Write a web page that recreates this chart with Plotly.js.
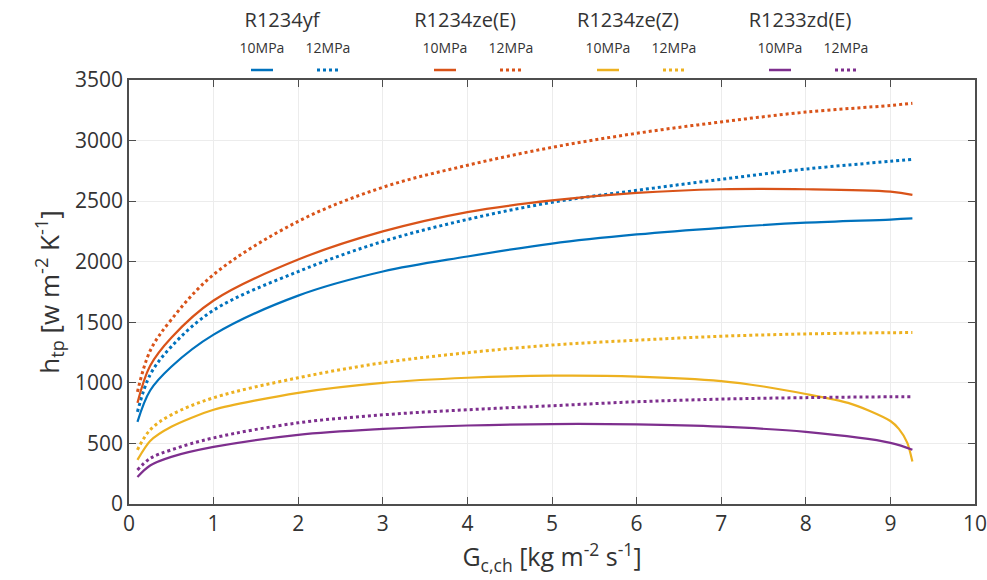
<!DOCTYPE html>
<html>
<head>
<meta charset="utf-8">
<script src="https://cdn.plot.ly/plotly-3.0.1.min.js"></script>
<style>html,body{margin:0;padding:0;background:#fff;}#chart{width:987px;height:580px;}</style>
</head>
<body>
<div id="chart"></div>
<script>
// Mass flux G_c,ch [kg m^-2 s^-1]
const G = [0.1, 0.25, 0.5, 1, 2, 3, 4, 5, 6, 7, 8, 9, 9.26];
const G_yellow10 = [0.1, 0.25, 0.5, 1, 2, 3, 4, 5, 6, 7, 7.5, 8, 8.5, 8.75, 9, 9.1, 9.2, 9.26];

// h_tp [W m^-2 K^-1]
const yf_10  = [678, 937, 1133, 1398, 1720, 1919, 2043, 2150, 2225, 2280, 2322, 2348, 2357];
const yf_12  = [761, 1067, 1299, 1600, 1919, 2167, 2349, 2490, 2589, 2680, 2765, 2829, 2845];
const zeE_10 = [835, 1141, 1373, 1680, 2018, 2250, 2410, 2506, 2568, 2598, 2598, 2578, 2552];
const zeE_12 = [926, 1265, 1522, 1894, 2333, 2614, 2796, 2944, 3060, 3154, 3235, 3290, 3308];
const zeZ_10 = [364, 520, 637, 778, 918, 1000, 1042, 1059, 1052, 1015, 970, 908, 835, 770, 685, 620, 505, 350];
const zeZ_12 = [447, 612, 736, 877, 1042, 1166, 1249, 1312, 1352, 1385, 1404, 1414, 1415];
const zd_10  = [223, 318, 389, 471, 571, 620, 648, 660, 657, 638, 595, 505, 447];
const zd_12  = [281, 376, 447, 546, 670, 736, 778, 811, 844, 866, 878, 885, 885];

const fluids = ['R1234yf', 'R1234ze(E)', 'R1234ze(Z)', 'R1233zd(E)'];
const pressures = ['10MPa', '12MPa'];
const colors = ['#0072BD', '#D95319', '#EDB120', '#7E2F8E'];

const series = [
  {x: G, y: yf_10, c: 0, dash: 'solid', name: 'R1234yf 10MPa'},
  {x: G, y: yf_12, c: 0, dash: 'dot', name: 'R1234yf 12MPa'},
  {x: G, y: zeE_10, c: 1, dash: 'solid', name: 'R1234ze(E) 10MPa'},
  {x: G, y: zeE_12, c: 1, dash: 'dot', name: 'R1234ze(E) 12MPa'},
  {x: G_yellow10, y: zeZ_10, c: 2, dash: 'solid', name: 'R1234ze(Z) 10MPa', sm: 0.7},
  {x: G, y: zeZ_12, c: 2, dash: 'dot', name: 'R1234ze(Z) 12MPa'},
  {x: G, y: zd_10, c: 3, dash: 'solid', name: 'R1233zd(E) 10MPa'},
  {x: G, y: zd_12, c: 3, dash: 'dot', name: 'R1233zd(E) 12MPa'}
];

const traces = series.map(s => ({
  x: s.x, y: s.y, type: 'scatter', mode: 'lines', name: s.name,
  line: {color: colors[s.c], width: s.dash === 'dot' ? 3 : 2.2, dash: s.dash, shape: 'spline', smoothing: s.sm || 1},
  showlegend: false, hoverinfo: 'skip', xaxis: 'x', yaxis: 'y'
}));

// geometry (pixels)
const L = 129, R = 12, B = 76, W = 987, H = 580, TOPBAND = 80;
const innerH = H - B;
const mainTop = TOPBAND / innerH;

const FONT = 'Open Sans, sans-serif';
// custom legend drawn in its own overlay band above the plot
const groupCenters = [282, 465, 628, 800];
const pressOffsets = [-20, 46];

traces.push({
  x: groupCenters, y: fluids.map(() => 22), text: fluids, type: 'scatter', mode: 'text',
  textposition: 'middle center', textfont: {family: FONT, size: 20, color: '#333'},
  xaxis: 'x2', yaxis: 'y2', showlegend: false, hoverinfo: 'skip', cliponaxis: false
});
const pX = [], pT = [];
fluids.forEach((f, i) => pressures.forEach((p, j) => { pX.push(groupCenters[i] + pressOffsets[j]); pT.push(p); }));
traces.push({
  x: pX, y: pX.map(() => 49), text: pT, type: 'scatter', mode: 'text',
  textposition: 'middle center', textfont: {family: FONT, size: 14, color: '#333'},
  xaxis: 'x2', yaxis: 'y2', showlegend: false, hoverinfo: 'skip', cliponaxis: false
});
fluids.forEach((f, i) => pressures.forEach((p, j) => {
  const cx = groupCenters[i] + pressOffsets[j];
  traces.push({
    x: [cx - 11, cx + 11], y: [70, 70], type: 'scatter', mode: 'lines',
    line: {color: colors[i], width: j === 0 ? 2.5 : 3, dash: j === 0 ? 'solid' : 'dot'},
    xaxis: 'x2', yaxis: 'y2', showlegend: false, hoverinfo: 'skip', cliponaxis: false
  });
}));

const axisCommon = {
  showline: true, linecolor: '#4d4d4d', linewidth: 1.5, mirror: 'ticks',
  ticks: 'inside', ticklen: 7, tickwidth: 1.3, tickcolor: '#4d4d4d',
  showgrid: true, gridcolor: '#ececec', gridwidth: 1, zeroline: false,
  ticklabeloverflow: 'allow',
  tickfont: {family: FONT, size: 21, color: '#333'}
};

const layout = {
  width: W, height: H,
  margin: {l: L, r: R, t: 0, b: B},
  paper_bgcolor: '#fff', plot_bgcolor: '#fff',
  xaxis: Object.assign({}, axisCommon, {
    range: [0, 10], tickmode: 'linear', tick0: 0, dtick: 1, anchor: 'y',
    title: {text: 'G<sub>c,ch</sub> [kg m<sup>-2</sup> s<sup>-1</sup>]', standoff: 4,
      font: {family: FONT, size: 25, color: '#333'}}
  }),
  yaxis: Object.assign({}, axisCommon, {
    domain: [0, 1 - mainTop], anchor: 'x',
    range: [0, 3500], tickmode: 'linear', tick0: 0, dtick: 500,
    title: {text: 'h<sub>tp</sub> [w m<sup>-2</sup> K<sup>-1</sup>]', standoff: 8,
      font: {family: FONT, size: 26, color: '#333'}}
  }),
  xaxis2: {domain: [0, 1], range: [L, W - R], anchor: 'y2', visible: false, fixedrange: true},
  yaxis2: {domain: [1 - mainTop, 1], range: [TOPBAND, 0], anchor: 'x2', visible: false, fixedrange: true},
  showlegend: false
};

Plotly.newPlot('chart', traces, layout, {displayModeBar: false});
</script>
</body>
</html>
